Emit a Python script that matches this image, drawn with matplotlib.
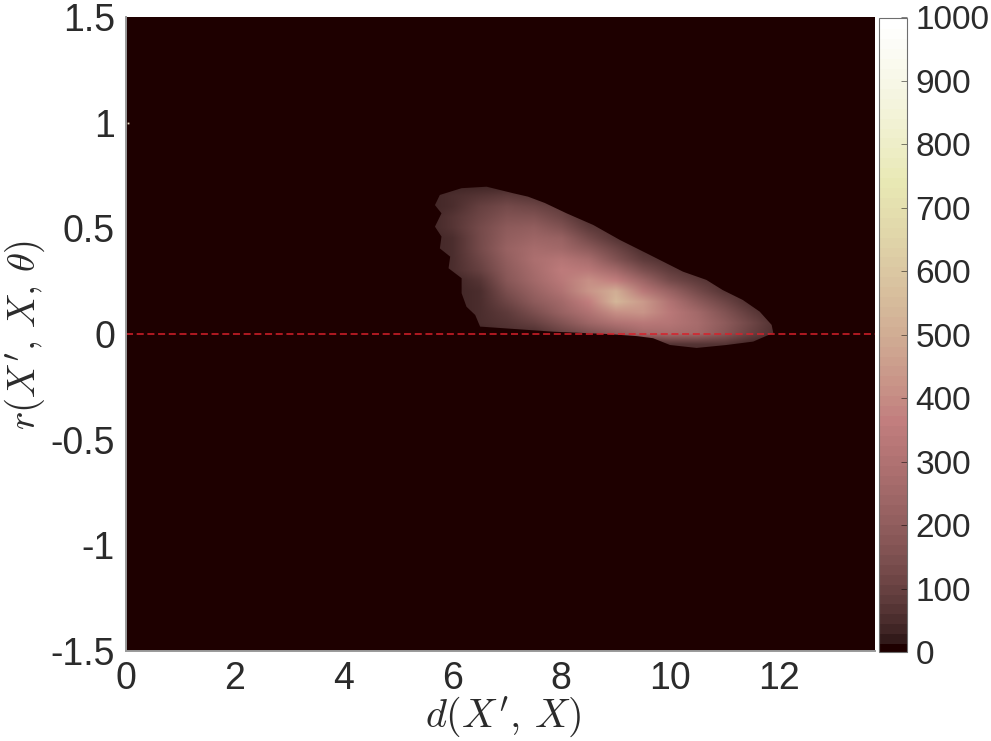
import numpy as np
import matplotlib
matplotlib.use("Agg")
import matplotlib.pyplot as plt
from matplotlib.colors import ListedColormap
from matplotlib.patches import Polygon

# Density values (rows: r_values, cols: d_values)
d_values = [5.5, 6.0, 6.5, 7.0, 7.5, 8.0, 8.5, 9.0, 9.5, 10.0, 10.5, 11.0, 11.5, 12.0]
r_values = [0.70, 0.65, 0.60, 0.55, 0.50, 0.45, 0.40, 0.35, 0.30, 0.25, 0.20, 0.15, 0.10, 0.05, 0.00, -0.05, -0.10]
density = [
    [40, 40, 40, 40, 40, 40, 40, 40, 40, 40, 40, 40, 40, 40],
    [40, 55, 75, 80, 65, 40, 40, 40, 40, 40, 40, 40, 40, 40],
    [40, 60, 100, 130, 115, 80, 40, 40, 40, 40, 40, 40, 40, 40],
    [40, 65, 120, 170, 170, 120, 60, 40, 40, 40, 40, 40, 40, 40],
    [40, 65, 130, 195, 215, 170, 90, 50, 40, 40, 40, 40, 40, 40],
    [40, 60, 130, 215, 245, 220, 140, 70, 40, 40, 40, 40, 40, 40],
    [40, 55, 125, 225, 270, 265, 200, 110, 60, 40, 40, 40, 40, 40],
    [40, 50, 110, 215, 285, 315, 270, 170, 90, 60, 40, 40, 40, 40],
    [40, 50, 95, 195, 275, 345, 340, 250, 150, 90, 50, 40, 40, 40],
    [40, 40, 75, 175, 255, 335, 410, 370, 240, 140, 80, 50, 40, 40],
    [40, 40, 60, 145, 225, 305, 425, 510, 340, 220, 130, 70, 50, 40],
    [30, 40, 55, 115, 190, 265, 365, 540, 450, 310, 200, 110, 60, 40],
    [30, 40, 50, 85, 150, 220, 305, 410, 430, 340, 250, 160, 80, 40],
    [30, 40, 50, 65, 100, 160, 240, 310, 340, 320, 270, 190, 110, 50],
    [30, 30, 40, 55, 60, 100, 150, 190, 250, 275, 255, 175, 95, 50],
    [30, 30, 30, 30, 30, 30, 30, 35, 45, 75, 75, 65, 45, 30],
    [30, 30, 30, 30, 30, 30, 30, 30, 30, 40, 40, 40, 30, 30],
]
# Outline of the non-zero region
outline_d = [5.77, 6.17, 6.63, 7.12, 7.39, 7.70, 8.10, 8.59, 9.08, 9.57, 10.24, 10.67, 10.97, 11.34, 11.65, 11.87,
             11.90, 11.53, 11.04, 10.49, 10.00, 9.69, 9.39, 8.84, 7.85, 6.51, 6.42, 6.26, 6.17, 6.17, 5.93,
             5.96, 5.77, 5.80, 5.68, 5.80, 5.68]
outline_r = [0.658, 0.690, 0.697, 0.666, 0.650, 0.620, 0.571, 0.516, 0.445, 0.382, 0.295, 0.256, 0.208, 0.161,
             0.106, 0.043, 0.005, -0.036, -0.052, -0.066, -0.052, -0.020, -0.010, 0.0, 0.011, 0.035, 0.090,
             0.129, 0.193, 0.264, 0.311, 0.366, 0.405, 0.461, 0.508, 0.571, 0.610]
spot_d, spot_r = [0.03], [1.0]
x_ticks = [0, 2, 4, 6, 8, 10, 12]
y_ticks = [-1.5, -1, -0.5, 0, 0.5, 1, 1.5]
y_ticklabels = ['-1.5', '-1', '-0.5', '0', '0.5', '1', '1.5']
cbar_ticks = list(range(0, 1001, 100))
x_max = 13.77

# MATLAB-style pink colormap, 64 levels
m = 64
n = 24
gray = np.arange(m) / (m - 1)
hot_r = np.r_[np.arange(1, n + 1) / n, np.ones(m - n)]
hot_g = np.r_[np.zeros(n), np.arange(1, n + 1) / n, np.ones(m - 2 * n)]
hot_b = np.r_[np.zeros(2 * n), np.arange(1, m - 2 * n + 1) / (m - 2 * n)]
pink = np.sqrt((2 * gray[:, None] + np.c_[hot_r, hot_g, hot_b]) / 3)
cmap = ListedColormap(pink)

plt.rcParams['font.family'] = ['Liberation Sans', 'DejaVu Sans']
plt.rcParams['mathtext.fontset'] = 'cm'
plt.rcParams['axes.unicode_minus'] = False

W, H = 991, 741
fig = plt.figure(figsize=(W / 100, H / 100), dpi=100)
TEXT = '#2b2b2b'
FRAME = '#9a9a9a'


def box(l, t, r, b):
    return [l / W, 1 - b / H, (r - l) / W, (b - t) / H]


ax = fig.add_axes(box(126, 17, 875, 651))
ax.set_facecolor(pink[0])

dx = d_values[1] - d_values[0]
dy = r_values[0] - r_values[1]
im = ax.imshow(np.array(density, float), cmap=cmap, vmin=0, vmax=1000, aspect='auto', origin='upper',
               interpolation='bilinear', interpolation_stage='rgba',
               extent=[d_values[0] - dx / 2, d_values[-1] + dx / 2, r_values[-1] - dy / 2, r_values[0] + dy / 2])
ax.set_xlim(0, x_max)
ax.set_ylim(-1.5, 1.5)
clip = Polygon(np.c_[outline_d, outline_r], closed=True, transform=ax.transData, fill=False, edgecolor='none')
ax.add_patch(clip)
im.set_clip_path(clip)

ax.plot(spot_d, spot_r, 's', ms=1.3, color='#e8dcc0', mew=0)
ax.axhline(0, color='#d8202a', lw=1.1, dashes=(4.6, 2.4))

ax.set_xticks(x_ticks)
ax.set_yticks(y_ticks)
ax.set_yticklabels(y_ticklabels)
ax.tick_params(axis='both', direction='in', length=0, labelsize=27, labelcolor=TEXT)
ax.tick_params(axis='x', pad=7)
ax.tick_params(axis='y', pad=8)
for name, sp in ax.spines.items():
    sp.set_color(FRAME)
    sp.set_linewidth(1.4)
    sp.set_visible(name in ('left', 'bottom'))

fig.text(503 / W, 1 - 717 / H, r"$d(X',\,X)$", fontsize=29, color=TEXT, ha='center', va='center')
fig.text(25 / W, 1 - 335 / H, r"$r(X',\,X,\,\theta)$", fontsize=28, color=TEXT, ha='center', va='center',
         rotation=90)

cax = fig.add_axes(box(879, 17.5, 907, 652))
cb = fig.colorbar(im, cax=cax, ticks=cbar_ticks, drawedges=False)
cb.solids.set_edgecolor('face')
cb.outline.set_edgecolor('#6e6e6e')
cb.outline.set_linewidth(0.8)
cax.tick_params(direction='in', length=4.5, width=0.7, color=(0, 0, 0, 0.5), labelsize=24, labelcolor=TEXT, pad=6)

fig.savefig('out.png', dpi=100)
